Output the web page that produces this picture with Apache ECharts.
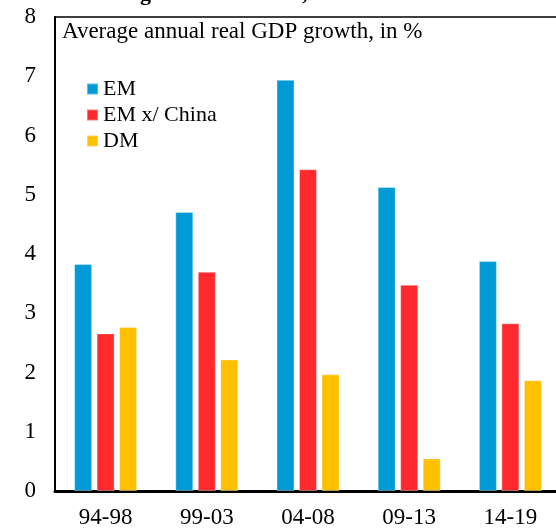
<!DOCTYPE html>
<html>
<head>
  <meta charset="utf-8">
  <title>ECharts</title>
  <script src="https://cdn.jsdelivr.net/npm/echarts@6/dist/echarts.min.js"></script>
  <style>
    html, body { margin: 0; padding: 0; background: #fff; }
    #main { width: 556px; height: 531px; }
  </style>
</head>
<body>
  <div id="main"></div>
  <script type="text/javascript">
    var periods = ['94-98', '99-03', '04-08', '09-13', '14-19'];
    var emValues = [3.83, 4.71, 6.94, 5.13, 3.88];
    var emExChinaValues = [2.66, 3.70, 5.43, 3.48, 2.83];
    var dmValues = [2.77, 2.22, 1.97, 0.55, 1.87];
    var yTicks = [0, 1, 2, 3, 4, 5, 6, 7, 8];

    var serif = '"Liberation Serif", "DejaVu Serif", serif';
    var myChart = echarts.init(document.getElementById('main'));

    function barSeries(name, data, color) {
      return {
        name: name,
        type: 'bar',
        data: data,
        barWidth: 18,
        barGap: '25%',
        itemStyle: { color: color, borderColor: 'rgba(255,255,255,0.35)', borderWidth: 1 }
      };
    }

    var option = {
      animation: false,
      title: [{
        text: 'Exhibit 1: EM growth has fallen, ...',
        left: 0,
        top: -17,
        padding: 0,
        textStyle: { fontFamily: serif, fontSize: 22, fontWeight: 'bold', color: '#000' }
      }, {
        text: 'Average annual real GDP growth, in %',
        left: 62,
        top: 20,
        padding: 0,
        textStyle: { fontFamily: serif, fontSize: 23, fontWeight: 'normal', color: '#000' }
      }],
      legend: {
        orient: 'vertical',
        left: 86,
        top: 78,
        padding: 0,
        itemWidth: 11,
        itemHeight: 11,
        itemGap: 4,
        icon: 'rect',
        textStyle: { fontFamily: serif, fontSize: 22, lineHeight: 22, color: '#000' },
        data: ['EM', 'EM x/ China', 'DM']
      },
      grid: {
        left: 55,
        width: 506,
        top: 17,
        bottom: 40,
        outerBoundsMode: 'none',
        containLabel: false,
        show: true,
        borderColor: '#000',
        borderWidth: 1.5
      },
      xAxis: {
        type: 'category',
        data: periods,
        axisLine: { lineStyle: { color: '#000', width: 3 } },
        axisTick: { show: false },
        axisLabel: { fontFamily: serif, fontSize: 23, color: '#000', margin: 15 }
      },
      yAxis: {
        type: 'value',
        min: yTicks[0],
        max: yTicks[yTicks.length - 1],
        interval: 1,
        axisLine: { show: true, lineStyle: { color: '#000', width: 2 } },
        axisTick: { show: false },
        splitLine: { show: false },
        axisLabel: { fontFamily: serif, fontSize: 23, color: '#000', margin: 19 }
      },
      series: [
        barSeries('EM', emValues, '#009bd6'),
        barSeries('EM x/ China', emExChinaValues, '#fe2a2d'),
        barSeries('DM', dmValues, '#ffc000')
      ]
    };
    myChart.setOption(option);
  </script>
</body>
</html>
